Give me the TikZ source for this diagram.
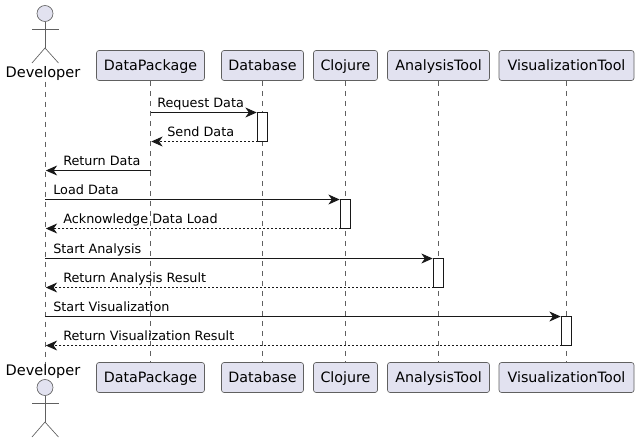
\documentclass[tikz,border=0pt]{standalone}
\usepackage{fontspec}
\setmainfont{DejaVu Sans}
\usetikzlibrary{arrows.meta}
\definecolor{boxfill}{HTML}{E2E2F0}
\definecolor{ink}{HTML}{181818}
\definecolor{thinink}{HTML}{606060}
\tikzset{
    party/.style={rectangle, rounded corners=1.9pt, draw=thinink, line width=.5pt, fill=boxfill, inner sep=0pt, minimum height=22.5pt, text height=8.8pt, text depth=2pt, font=\fontsize{10.7}{12}\selectfont, text=black},
    actorname/.style={anchor=base, inner sep=0pt, font=\fontsize{10.9}{12}\selectfont, text=black},
    actorhead/.style={circle, draw=thinink, line width=.5pt, fill=boxfill, minimum size=12pt, inner sep=0pt},
    figure/.style={draw=thinink, line width=.5pt},
    lifeline/.style={draw=thinink, line width=.5pt, dash pattern=on 3.75pt off 3.75pt},
    bar/.style={rectangle, draw=ink, line width=.75pt, fill=white, inner sep=0pt, minimum width=7.5pt},
    call/.style={draw=ink, line width=.75pt, -{Stealth[length=8.5pt, width=7.5pt, inset=2.6pt]}, shorten >=.6pt},
    reply/.style={call, dash pattern=on 1.5pt off 1.5pt},
    msgtext/.style={anchor=base west, inner sep=0pt, font=\fontsize{9.6}{12}\selectfont, text=black}
}
\begin{document}
\begin{tikzpicture}[x=.75pt, y=-.75pt]
    \useasboundingbox (0,0) rectangle (639,443);
    % Participants
    \node[actorname] (Top-Developer) at (43,77.8) {Developer};
    \node[actorname] (Bottom-Developer) at (43,375.2) {Developer};
    \draw[lifeline] (45,81.5) coordinate (Start-Developer) -- (45,363.5) coordinate (End-Developer);
    \foreach \name/\cx/\w in {DataPackage/150.5/108,Database/262.5/82,Clojure/345.5/64,AnalysisTool/438.5/102,VisualizationTool/566.5/135} {
        \node[party, minimum width=\w*.75pt] (Top-\name) at (\cx,65.5) {\name};
        \node[party, minimum width=\w*.75pt] (Bottom-\name) at (\cx,377.5) {\name};
        \draw[lifeline] (Top-\name.south) -- (Bottom-\name.north);
    }
    % Actors
    \foreach \part/\cy in {Top/13.5,Bottom/387.5} {
        \node[actorhead] (Head-\part) at (45,\cy) {};
        \coordinate (Hip-\part) at (45,\cy+34.5);
        \draw[figure] (Head-\part) -- (Hip-\part);
        \draw[figure] (32,\cy+15.5) -- (58.5,\cy+15.5);
        \draw[figure] (32,\cy+49.5) -- (Hip-\part) -- (58.5,\cy+49.5);
    }
    % Activations
    \foreach \i/\cx/\ya/\yb in {1/262.5/112.5/141.5,2/345.5/199.5/228.5,3/438.5/258.5/287.5,4/566.5/316.5/345.5} {
        \node[bar, minimum height=(\yb-\ya)*.75pt] (Act-\i) at (\cx,{(\ya+\yb)/2}) {};
    }
    % Messages
    \foreach \i/\style/\xa/\xb/\y/\tx/\txt in {
        1/call/150.5/257.5/112.5/157/Request Data,
        2/reply/257.5/150.5/141.5/167/Send Data,
        3/call/150.5/45/170.5/63/Return Data,
        4/call/45/340.5/199.5/53/Load Data,
        5/reply/340.5/45/228.5/63/Acknowledge Data Load,
        6/call/45/433.5/258.5/53/Start Analysis,
        7/reply/433.5/45/287.5/63/Return Analysis Result,
        8/call/45/561.5/316.5/53/Start Visualization,
        9/reply/561.5/45/345.5/63/Return Visualization Result} {
        \coordinate (From-\i) at (\xa,\y);
        \coordinate (To-\i) at (\xb,\y);
        \draw[\style] (From-\i) -- (To-\i);
        \node[msgtext] (Label-\i) at (\tx,\y-4.7) {\txt};
    }
\end{tikzpicture}
\end{document}
